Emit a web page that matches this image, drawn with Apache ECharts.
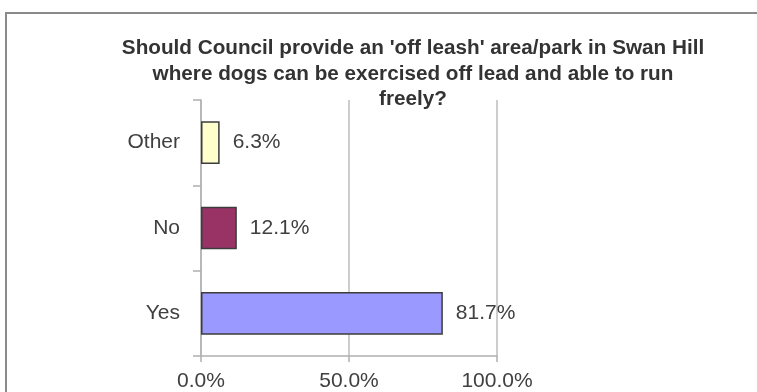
<!DOCTYPE html>
<html>
<head>
<meta charset="utf-8">
<script src="https://cdn.jsdelivr.net/npm/echarts@6/dist/echarts.min.js"></script>
<style>
html,body{margin:0;padding:0;background:#fff;overflow:hidden;}
#chart{width:757px;height:392px;}
</style>
</head>
<body>
<div id="chart"></div>
<script>
var categories = ['Yes', 'No', 'Other'];
var values = [81.7, 12.1, 6.3];
var xTicks = [0, 50, 100];
var barColors = ['#9999FF', '#993366', '#FFFFCC'];
var titleText = "Should Council provide an 'off leash' area/park in Swan Hill\nwhere dogs can be exercised off lead and able to run\nfreely?";

var chart = echarts.init(document.getElementById('chart'), null, {renderer: 'canvas'});
var font = 'Liberation Sans, Arial, sans-serif';
chart.setOption({
  animation: false,
  backgroundColor: '#fff',
  graphic: [{
    type: 'polyline',
    shape: {points: [[6, 500], [6, 13], [1500, 13]]},
    style: {fill: 'none', stroke: '#8a8a8a', lineWidth: 2},
    silent: true
  }],
  title: {
    text: titleText,
    left: 408,
    top: 31,
    textAlign: 'center',
    textStyle: {
      fontFamily: font,
      fontSize: 20.7,
      fontWeight: 'bold',
      color: '#333333',
      lineHeight: 25.5
    }
  },
  grid: {left: 201, right: 260, top: 100, bottom: 35, containLabel: false},
  xAxis: {
    type: 'value',
    min: 0,
    max: 100,
    interval: 50,
    axisLine: {show: true, lineStyle: {color: '#b0b0b0', width: 1.5}},
    axisTick: {show: true, length: 6, lineStyle: {color: '#b0b0b0', width: 1.5}},
    splitLine: {show: true, lineStyle: {color: '#bdbdbd', width: 1.5}},
    axisLabel: {
      margin: 15,
      fontFamily: font,
      fontSize: 21,
      color: '#404040',
      formatter: function (v) { return xTicks.indexOf(v) >= 0 ? v.toFixed(1) + '%' : ''; }
    }
  },
  yAxis: {
    type: 'category',
    data: categories,
    boundaryGap: true,
    axisLine: {show: true, lineStyle: {color: '#b0b0b0', width: 1.5}},
    axisTick: {show: true, length: 8, inside: false, lineStyle: {color: '#b0b0b0', width: 1.5}},
    axisLabel: {margin: 21, fontFamily: font, fontSize: 21, color: '#404040'},
    splitLine: {show: false}
  },
  series: [{
    type: 'bar',
    barWidth: '50%',
    data: values.map(function (v, i) {
      return {value: v, itemStyle: {color: barColors[i], borderColor: '#3c3c3c', borderWidth: 1.5}};
    }),
    label: {
      show: true,
      position: 'right',
      distance: 13,
      fontFamily: font,
      fontSize: 21,
      color: '#404040',
      formatter: function (p) { return p.value.toFixed(1) + '%'; }
    }
  }]
});
</script>
</body>
</html>
